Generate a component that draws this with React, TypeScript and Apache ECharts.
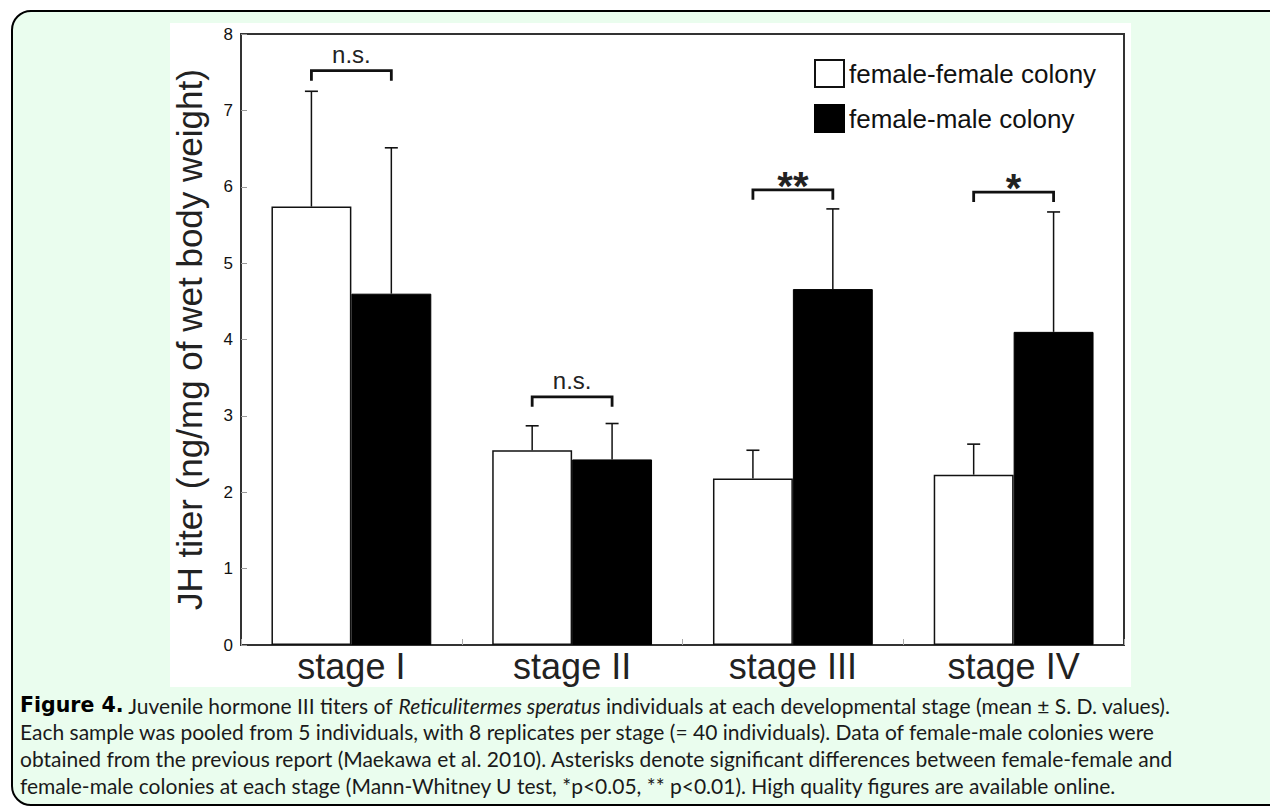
import React, { useEffect, useRef } from 'react';
import * as echarts from 'echarts';

const stages = ['stage I', 'stage II', 'stage III', 'stage IV'];
const seriesNames = ['female-female colony', 'female-male colony'];
const ffMean = [5.74, 2.55, 2.18, 2.23];
const ffUpper = [7.25, 2.87, 2.55, 2.63];
const fmMean = [4.6, 2.43, 4.66, 4.1];
const fmUpper = [6.51, 2.9, 5.71, 5.67];
const sigLevel = [7.52, 3.25, 5.96, 5.93];
const sigLabel = ['n.s.', 'n.s.', '**', '*'];
const yTitle = 'JH titer (ng/mg of wet body weight)';
const captionLines = [
  '{b|Figure 4.} Juvenile hormone III titers of {i|Reticulitermes speratus} individuals at each developmental stage (mean ± S. D. values).',
  'Each sample was pooled from 5 individuals, with 8 replicates per stage (= 40 individuals). Data of female-male colonies were',
  'obtained from the previous report (Maekawa et al. 2010). Asterisks denote significant differences between female-female and',
  'female-male colonies at each stage (Mann-Whitney U test, *p<0.05, ** p<0.01). High quality figures are available online.',
];

const AX = 'Liberation Sans, Arial, Helvetica, sans-serif';
const CAP = 'Lato, "Open Sans", sans-serif';
const SHARE = 0.724 / 4;

const makeErr = (side: number) => (params: any, api: any) => {
  const cat = api.value(0);
  const base = api.coord([cat, api.value(1)]);
  const top = api.coord([cat, api.value(2)]);
  const band = api.size([1, 0])[0];
  const x = base[0] + side * band * SHARE;
  return {
    type: 'group',
    children: [
      { type: 'line', shape: { x1: x, y1: base[1], x2: x, y2: top[1] }, style: { stroke: '#111', lineWidth: 1.5 } },
      { type: 'line', shape: { x1: x - 6.5, y1: top[1], x2: x + 6.5, y2: top[1] }, style: { stroke: '#111', lineWidth: 1.6 } },
    ],
  };
};

const renderBracket = (params: any, api: any) => {
  const cat = api.value(0);
  const p = api.coord([cat, api.value(1)]);
  const band = api.size([1, 0])[0];
  const half = band * SHARE;
  const lbl = sigLabel[params.dataIndex];
  const star = lbl.indexOf('*') >= 0;
  return {
    type: 'group',
    children: [
      {
        type: 'polyline',
        shape: { points: [[p[0] - half, p[1] + 10], [p[0] - half, p[1]], [p[0] + half, p[1]], [p[0] + half, p[1] + 10]] },
        style: { stroke: '#111', lineWidth: 2.8, fill: 'none' },
      },
      {
        type: 'text',
        x: p[0],
        y: p[1] - (star ? 4 : 16),
        style: {
          text: lbl,
          align: 'center',
          verticalAlign: 'middle',
          fontSize: star ? 40 : 24,
          fontWeight: star ? 'bold' : 'normal',
          fontFamily: AX,
          fill: '#222',
        },
      },
    ],
  };
};

export default function App() {
  const ref = useRef<HTMLDivElement>(null);
  useEffect(() => {
    if (!ref.current) return;
    const chart = echarts.init(ref.current, undefined, { renderer: 'svg' });
    const option: any = {
      animation: false,
      backgroundColor: '#ffffff',
      graphic: [
        {
          type: 'rect',
          z: -10,
          shape: { x: 12, y: 11, width: 1300, height: 794, r: 19 },
          style: { fill: '#eafdee', stroke: '#000', lineWidth: 2 },
        },
        {
          type: 'rect',
          z: -9,
          shape: { x: 170, y: 23, width: 961, height: 664 },
          style: { fill: '#ffffff' },
        },
        {
          type: 'text',
          z: -8,
          x: 20,
          y: 692,
          style: {
            text: captionLines.join('\n'),
            fontFamily: CAP,
            fontSize: 21,
            lineHeight: 26.6,
            fill: '#1a1a1a',
            verticalAlign: 'top',
            rich: {
              b: { fontFamily: 'DejaVu Sans, sans-serif', fontSize: 20.5, fontWeight: 'bold', lineHeight: 26.6, fill: '#000' },
              i: { fontFamily: CAP, fontSize: 21, fontStyle: 'italic', lineHeight: 26.6, fill: '#1a1a1a' },
            },
          },
        },
      ],
      grid: {
        left: 241,
        right: 146,
        top: 34,
        bottom: 163,
        show: true,
        borderColor: '#333',
        borderWidth: 2,
        backgroundColor: 'transparent',
      },
      legend: {
        data: seriesNames,
        orient: 'vertical',
        left: 814,
        top: 59,
        padding: 0,
        itemWidth: 29,
        itemHeight: 27,
        itemGap: 16,
        icon: 'rect',
        textStyle: { fontSize: 26, color: '#111', fontFamily: AX },
      },
      xAxis: {
        type: 'category',
        data: stages,
        axisLine: { show: true, lineStyle: { color: '#333', width: 2 } },
        axisTick: { show: true, inside: true, length: 6, lineStyle: { color: '#aaa' } },
        axisLabel: { fontSize: 36, color: '#222', margin: 3, fontFamily: AX },
      },
      yAxis: {
        type: 'value',
        min: 0,
        max: 8,
        interval: 1,
        name: yTitle,
        nameLocation: 'middle',
        nameGap: 34,
        nameTextStyle: { fontSize: 35, color: '#222', fontFamily: AX },
        axisLine: { show: true, lineStyle: { color: '#333', width: 2 } },
        axisTick: { show: true, inside: true, length: 6, lineStyle: { color: '#999' } },
        axisLabel: { fontSize: 17, color: '#111', margin: 8, fontFamily: AX },
        splitLine: { show: false },
      },
      series: [
        {
          name: seriesNames[0],
          type: 'bar',
          data: ffMean,
          barGap: '0%',
          barCategoryGap: '27.6%',
          itemStyle: { color: '#ffffff', borderColor: '#111', borderWidth: 1.5 },
          z: 2,
        },
        {
          name: seriesNames[1],
          type: 'bar',
          data: fmMean,
          barGap: '0%',
          barCategoryGap: '27.6%',
          itemStyle: { color: '#000000', borderColor: '#000', borderWidth: 1 },
          z: 2,
        },
        {
          type: 'custom',
          renderItem: makeErr(-1),
          data: stages.map((_, i) => [i, ffMean[i], ffUpper[i]]),
          encode: { x: 0, y: [1, 2] },
          z: 3,
          silent: true,
        },
        {
          type: 'custom',
          renderItem: makeErr(1),
          data: stages.map((_, i) => [i, fmMean[i], fmUpper[i]]),
          encode: { x: 0, y: [1, 2] },
          z: 3,
          silent: true,
        },
        {
          type: 'custom',
          renderItem: renderBracket,
          data: stages.map((_, i) => [i, sigLevel[i]]),
          encode: { x: 0, y: 1 },
          z: 3,
          silent: true,
        },
      ],
    };
    chart.setOption(option);
    return () => chart.dispose();
  }, []);
  return (
    <div
      ref={ref}
      style={{ position: 'fixed', left: 0, top: 0, width: 1270, height: 808 }}
    />
  );
}
